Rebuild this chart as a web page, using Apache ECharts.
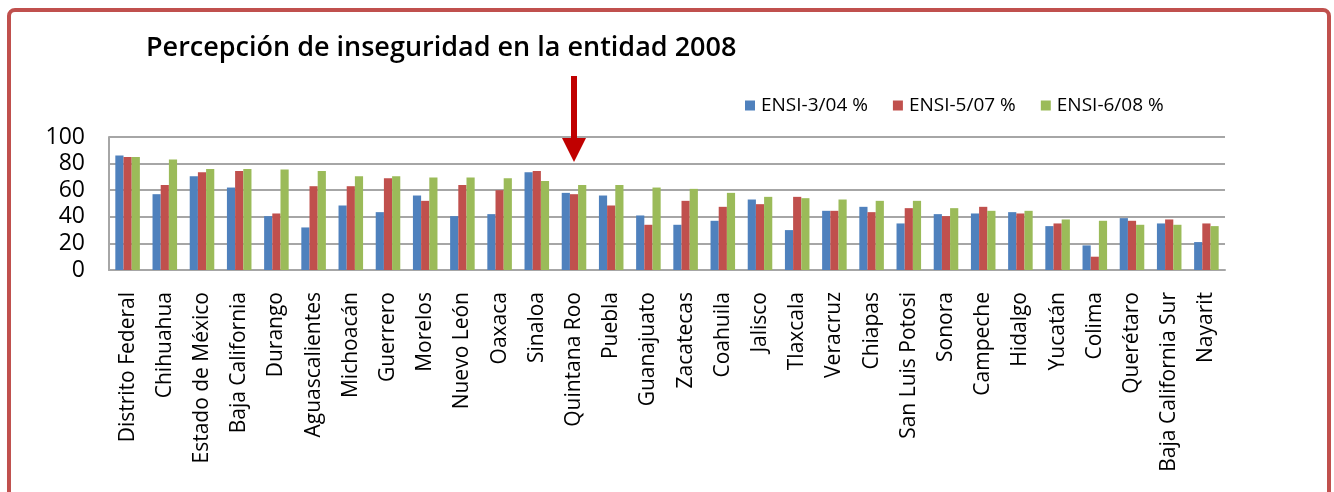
<!DOCTYPE html>
<html>
<head>
<meta charset="utf-8">
<script src="https://cdn.jsdelivr.net/npm/echarts@6/dist/echarts.min.js"></script>
<style>
  html, body { margin: 0; padding: 0; background: #fff; }
  #chart { width: 1334px; height: 492px; }
</style>
</head>
<body>
<div id="chart"></div>
<script>
// estados, ordenados como en la gráfica
var estados = ['Distrito Federal', 'Chihuahua', 'Estado de México', 'Baja California', 'Durango',
    'Aguascalientes', 'Michoacán', 'Guerrero', 'Morelos', 'Nuevo León', 'Oaxaca', 'Sinaloa',
    'Quintana Roo', 'Puebla', 'Guanajuato', 'Zacatecas', 'Coahuila', 'Jalisco', 'Tlaxcala',
    'Veracruz', 'Chiapas', 'San Luis Potosi', 'Sonora', 'Campeche', 'Hidalgo', 'Yucatán',
    'Colima', 'Querétaro', 'Baja California Sur', 'Nayarit'];

var ensi304 = [86, 57, 70.5, 62, 40.5, 32, 48.5, 43.5, 56, 40.5, 42, 73.5, 58, 56, 41, 34, 37, 53,
    30, 44.5, 47.5, 35, 42, 42.5, 43.5, 33, 18.5, 39, 35, 21];
var ensi507 = [85, 64, 73.5, 74.5, 42.5, 63, 63, 69, 52, 64, 60, 74.5, 57, 48.5, 34, 52, 47.5, 49.5,
    55, 44.5, 43.5, 46.5, 40.5, 47.5, 42.5, 35, 10, 37, 38, 35];
var ensi608 = [85, 83, 76, 76, 75.5, 74.5, 70.5, 70.5, 69.5, 69.5, 69, 67, 64, 64, 62, 61, 58, 55,
    54, 53, 52, 52, 46.5, 44.5, 44.5, 38, 37, 34, 34, 33];

var yTicks = [0, 20, 40, 60, 80, 100];
var serieNames = ['ENSI-3/04 %', 'ENSI-5/07 %', 'ENSI-6/08 %'];
var colores = ['#4f81bd', '#c0504d', '#9bbb59'];

var FONT = '"Open Sans", "DejaVu Sans", sans-serif';

var myChart = echarts.init(document.getElementById('chart'));
var option = {
    animation: false,
    color: colores,
    title: {
        text: 'Percepción de inseguridad en la entidad 2008',
        left: 141,
        top: 30,
        textStyle: { fontFamily: FONT, fontSize: 27, fontWeight: 600, color: '#000' }
    },
    legend: {
        data: serieNames,
        left: 740,
        top: 91,
        itemWidth: 10,
        itemHeight: 10,
        itemGap: 25,
        icon: 'rect',
        textStyle: { fontFamily: FONT, fontSize: 19, color: '#000', padding: [0, 0, 0, 1] }
    },
    grid: { left: 109, right: 109, top: 137, bottom: 222, containLabel: false },
    xAxis: {
        type: 'category',
        data: estados,
        axisLine: { lineStyle: { color: '#a6a6a6', width: 2 } },
        axisTick: { show: false },
        axisLabel: {
            rotate: 90,
            interval: 0,
            margin: 22,
            fontFamily: FONT,
            fontSize: 21,
            color: '#000'
        }
    },
    yAxis: {
        type: 'value',
        min: 0,
        max: 100,
        interval: 20,
        axisLine: { show: true, lineStyle: { color: '#a6a6a6', width: 2 } },
        axisTick: { show: false },
        splitLine: { lineStyle: { color: '#a6a6a6', width: 2 } },
        axisLabel: {
            margin: 24,
            fontFamily: FONT,
            fontSize: 23,
            color: '#000',
            formatter: function (v) { return yTicks.indexOf(v) >= 0 ? String(v) : ''; }
        }
    },
    series: [ensi304, ensi507, ensi608].map(function (d, i) {
        return {
            name: serieNames[i],
            type: 'bar',
            data: d,
            barGap: '0%',
            barCategoryGap: '34%'
        };
    })
};
myChart.setOption(option);

// marco rojo y flecha sobre Quintana Roo
var px = myChart.convertToPixel({ xAxisIndex: 0 }, 'Quintana Roo');
myChart.setOption({
    graphic: [
        {
            type: 'rect',
            shape: { x: 9, y: 10, width: 1320, height: 520, r: 6 },
            style: { fill: 'none', stroke: '#c0504d', lineWidth: 4 },
            silent: true
        },
        {
            type: 'rect',
            shape: { x: px - 3, y: 76, width: 6, height: 64 },
            style: { fill: '#c00000' },
            silent: true
        },
        {
            type: 'polygon',
            shape: { points: [[px - 12, 138], [px + 12, 138], [px, 162]] },
            style: { fill: '#c00000' },
            silent: true
        }
    ]
});
</script>
</body>
</html>
